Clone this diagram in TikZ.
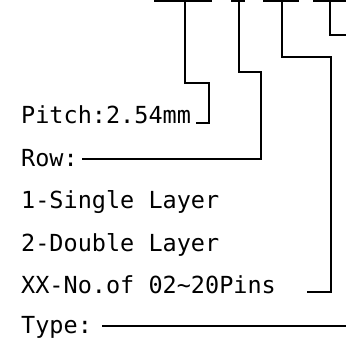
\documentclass[tikz,border=0pt]{standalone}
\usepackage{fontspec}
\newfontfamily\cadfont{DejaVu Sans Mono}
\begin{document}
\begin{tikzpicture}[x=1pt,y=-1pt,
  lbl/.style={anchor=base west,inner sep=0pt,font=\cadfont\fontsize{23.5}{28}\selectfont},
  ln/.style={line width=1.8pt,line cap=rect,line join=miter}]
\useasboundingbox (0,0) rectangle (346,340);
% labels
\node[lbl] (pitch) at (21,123) {Pitch:2.54mm};
\node[lbl] (row)   at (21,166) {Row:};
\node[lbl] (single) at (21,208) {1-Single Layer};
\node[lbl] (double) at (21,251) {2-Double Layer};
\node[lbl] (pins)  at (21,293) {XX-No.of 02\char`~20Pins};
\node[lbl] (type)  at (21,333) {Type:};
% top bars
\coordinate (t1) at (185,1);
\coordinate (t2) at (239,1);
\coordinate (t3) at (282,1);
\coordinate (t4) at (330,1);
\draw[ln] (155,1) -- (211,1);
\draw[ln] (232,1) -- (244,1);
\draw[ln] (264,1) -- (298,1);
\draw[ln] (314,1) -- (346,1);
% leader ends
\coordinate (pitchEnd) at (197,123);
\coordinate (rowEnd) at (83,159);
\coordinate (pinsEnd) at (308,292);
\coordinate (typeEnd) at (103,326);
\coordinate (edge4) at (346,35);
\coordinate (edgeType) at (346,326);
% connectors
\draw[ln] (pitchEnd) -- (209,123) |- (185,83) -- (t1);
\draw[ln] (rowEnd) -- (261,159) |- (239,72) -- (t2);
\draw[ln] (pinsEnd) -- (331,292) |- (282,57) -- (t3);
\draw[ln] (t4) |- (edge4);
\draw[ln] (typeEnd) -- (edgeType);
\end{tikzpicture}
\end{document}
